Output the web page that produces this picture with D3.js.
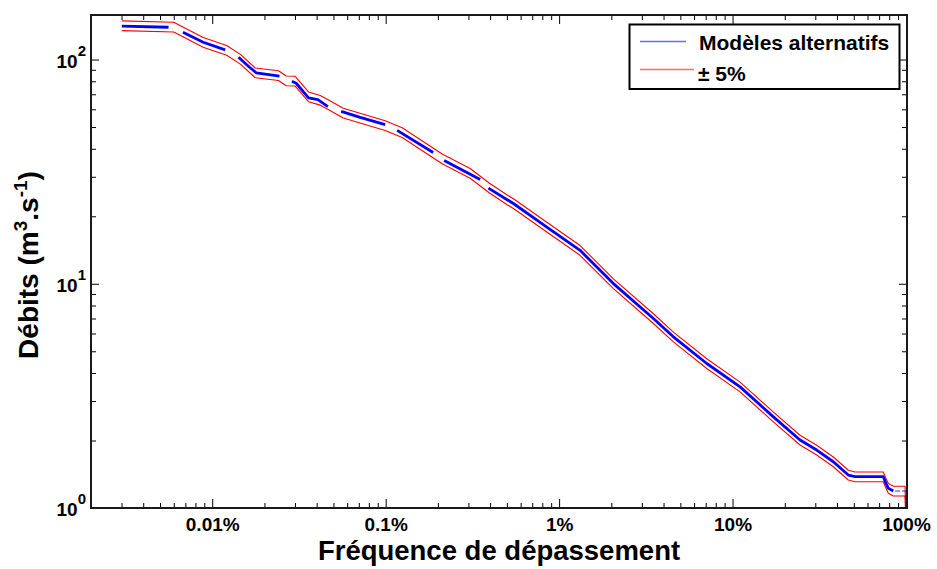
<!DOCTYPE html>
<html>
<head>
<meta charset="utf-8">
<script src="https://cdn.jsdelivr.net/npm/d3@7"></script>
<style>
  html, body { margin: 0; padding: 0; background: #fff; }
  svg { display: block; font-family: "Liberation Sans", Arial, sans-serif; }
</style>
</head>
<body>
<svg id="chart" width="937" height="569"></svg>
<script>
// ---------------- DATA ----------------
// Exceedance frequency (%) of the reference curve used for the ±5% envelope
const refFreq = [0.00301, 0.00600, 0.00887, 0.01212, 0.01460, 0.01769, 0.02411, 0.02670, 0.03009, 0.03589,
  0.04195, 0.04663, 0.05689, 0.09934, 0.1245, 0.2117, 0.3069, 0.3949, 0.5016, 0.5453,
  0.8494, 1.321, 2.056, 3.496, 4.558, 7.10, 11.05, 17.19, 24.49, 30.57,
  38.11, 46.49, 50.83, 73.99, 76.68, 79.07, 84.52, 98.7, 100];
// Reference flow (m3/s)
const refFlow = [141.7, 139.6, 119.4, 110.0, 100.2, 87.3, 84.9, 80.4, 80.2, 68.3,
  65.9, 63.0, 57.8, 50.8, 47.3, 36.1, 31.1, 26.8, 23.7, 22.8,
  17.9, 14.1, 10.02, 7.00, 5.80, 4.41, 3.47, 2.55, 2.01, 1.813,
  1.608, 1.403, 1.379, 1.379, 1.288, 1.224, 1.191, 1.19, 0.85];
const envelopePct = 0.05; // "± 5%"

// Alternative models (null = gap in the plotted curve)
const modelFreq = [0.00301, 0.00560, null,
  0.00678, 0.00887, 0.01188, null,
  0.01418, 0.01640, 0.01793, 0.02443, null,
  0.02880, 0.03049, 0.03589, 0.04067, 0.04644, null,
  0.05540, 0.07129, 0.09934, null,
  0.1165, 0.1878, null,
  0.2174, 0.3504, null,
  0.3913, 0.5016, 0.5453, 0.8494, 1.321, 2.056, 3.496, 4.558, 7.10, 11.05,
  17.19, 24.49, 30.57, 38.11, 46.49, 50.83, 73.99, 76.68, 79.07, 84.52];
const modelFlow = [141.0, 139.3, null,
  132.3, 119.4, 110.5, null,
  102.4, 92.4, 87.3, 84.3, null,
  80.0, 78.4, 67.5, 66.2, 61.7, null,
  58.7, 55.2, 51.3, null,
  48.3, 38.5, null,
  35.5, 29.2, null,
  26.7, 23.7, 22.8, 17.9, 14.1, 10.02, 7.00, 5.80, 4.41, 3.47,
  2.55, 2.01, 1.813, 1.608, 1.403, 1.379, 1.379, 1.288, 1.224, 1.191];
// thin tail of the model curve near 100%
const modelTailFreq = [86.5, 98.7, 99.6, 100];
const modelTailFlow = [1.191, 1.19, 1.19, 0.85];

const xTickValues = [0.01, 0.1, 1, 10, 100];
const xTickLabels = ["0.01%", "0.1%", "1%", "10%", "100%"];
const yTickValues = [1, 10, 100];
const yTickExponents = ["0", "1", "2"];
const legendLabels = ["Modèles alternatifs", "± 5%"];
const xTitle = "Fréquence de dépassement";

// ---------------- LAYOUT ----------------
const L = 91, R = 907, T = 15, B = 508;
const svg = d3.select("#chart");

const x = d3.scaleLog().domain([0.002, 100]).range([L, 906]);
const y = d3.scaleLog().domain([1, 158]).range([B, T]);

svg.append("defs").append("clipPath").attr("id", "clip")
  .append("rect").attr("x", L).attr("y", T).attr("width", R - L).attr("height", B - T);

// minor ticks
function minors(domain, bases) {
  const out = [];
  bases.forEach(b => { for (let m = 2; m <= 9; m++) { const v = m * b; if (v >= domain[0] && v <= domain[1]) out.push(v); } });
  return out;
}
const xMinor = minors(x.domain(), [0.001, 0.01, 0.1, 1, 10]);
const yMinor = minors(y.domain(), [1, 10, 100]);

function tickGroup(axis, transform) {
  const g = svg.append("g").attr("transform", transform).call(axis);
  g.select(".domain").remove();
  g.selectAll(".tick line").attr("stroke", "#000").attr("stroke-width", 1);
  return g;
}
// bottom
tickGroup(d3.axisBottom(x).tickValues(xMinor).tickSize(-5).tickFormat(""), `translate(0,${B})`);
const gx = tickGroup(d3.axisBottom(x).tickValues(xTickValues).tickSize(-9).tickPadding(10)
  .tickFormat((d, i) => xTickLabels[i]), `translate(0,${B})`);
gx.selectAll("text").attr("font-size", 19).attr("font-weight", "bold").attr("fill", "#000")
  .attr("font-family", "Liberation Sans, Arial, sans-serif");
// top
tickGroup(d3.axisTop(x).tickValues(xMinor).tickSize(-5).tickFormat(""), `translate(0,${T})`);
tickGroup(d3.axisTop(x).tickValues(xTickValues).tickSize(-9).tickFormat(""), `translate(0,${T})`);
// left
tickGroup(d3.axisLeft(y).tickValues(yMinor).tickSize(-5).tickFormat(""), `translate(${L},0)`);
tickGroup(d3.axisLeft(y).tickValues(yTickValues).tickSize(-8).tickFormat(""), `translate(${L},0)`);
// right
tickGroup(d3.axisRight(y).tickValues(yMinor).tickSize(-5).tickFormat(""), `translate(${R},0)`);
tickGroup(d3.axisRight(y).tickValues(yTickValues).tickSize(-8).tickFormat(""), `translate(${R},0)`);

// y tick labels 10^n
const yl = svg.append("g").attr("font-weight", "bold").attr("fill", "#000");
yTickValues.forEach((v, i) => {
  const t = yl.append("text").attr("x", 86).attr("y", y(v) + 8).attr("text-anchor", "end");
  t.append("tspan").attr("font-size", 19).text("10");
  t.append("tspan").attr("font-size", 15).attr("dy", -12).text(yTickExponents[i]);
});

// ---------------- LINES ----------------
const lineGen = d3.line()
  .defined(d => d[1] != null)
  .x(d => x(d[0])).y(d => y(d[1]));

const refPts = refFreq.map((f, i) => [f, refFlow[i]]);
const upperPts = refPts.map(d => [d[0], d[1] * (1 + envelopePct)]);
const lowerPts = refPts.map(d => [d[0], d[1] * (1 - envelopePct)]);
const modelPts = modelFreq.map((f, i) => [f, modelFlow[i]]);
const tailPts = modelTailFreq.map((f, i) => [f, modelTailFlow[i]]);

const plot = svg.append("g").attr("clip-path", "url(#clip)");
[upperPts, lowerPts].forEach(p => plot.append("path").datum(p)
  .attr("d", lineGen).attr("fill", "none").attr("stroke", "#ff0000").attr("stroke-width", 1.1)
  .attr("stroke-linejoin", "round"));
plot.append("path").datum(modelPts).attr("d", lineGen).attr("fill", "none")
  .attr("stroke", "#0000ff").attr("stroke-width", 2.8).attr("stroke-linejoin", "round");
plot.append("path").datum(tailPts).attr("d", lineGen).attr("fill", "none")
  .attr("stroke", "#0000ff").attr("stroke-opacity", 0.55).attr("stroke-width", 1.5)
  .attr("stroke-dasharray", "5,2");

// plot frame
svg.append("rect").attr("x", L).attr("y", T).attr("width", R - L).attr("height", B - T)
  .attr("fill", "none").attr("stroke", "#1a1a1a").attr("stroke-width", 2);

// ---------------- LEGEND ----------------
const lg = svg.append("g");
lg.append("rect").attr("x", 629.5).attr("y", 24.5).attr("width", 270).attr("height", 64.5)
  .attr("fill", "#fff").attr("stroke", "#000").attr("stroke-width", 2);
lg.append("line").attr("x1", 640).attr("x2", 686).attr("y1", 41.5).attr("y2", 41.5)
  .attr("stroke", "#6a6aff").attr("stroke-width", 1.3);
lg.append("line").attr("x1", 640).attr("x2", 694).attr("y1", 69.5).attr("y2", 69.5)
  .attr("stroke", "#ff6a6a").attr("stroke-width", 1.3);
lg.append("text").attr("x", 699).attr("y", 50).attr("font-size", 21).attr("font-weight", "bold")
  .text(legendLabels[0]);
lg.append("text").attr("x", 698).attr("y", 81).attr("font-size", 21).attr("font-weight", "bold")
  .text(legendLabels[1]);

// ---------------- AXIS TITLES ----------------
svg.append("text").attr("x", (L + R) / 2).attr("y", 560).attr("text-anchor", "middle")
  .attr("font-size", 27.5).attr("font-weight", "bold").text(xTitle);

const yt = svg.append("text").attr("transform", "translate(38,265) rotate(-90)")
  .attr("text-anchor", "middle").attr("font-size", 28).attr("font-weight", "bold");
yt.append("tspan").text("Débits (m");
yt.append("tspan").attr("font-size", 19).attr("dy", -11).text("3");
yt.append("tspan").attr("dy", 11).text(".s");
yt.append("tspan").attr("font-size", 19).attr("dy", -11).text("-1");
yt.append("tspan").attr("dy", 11).text(")");
</script>
</body>
</html>
